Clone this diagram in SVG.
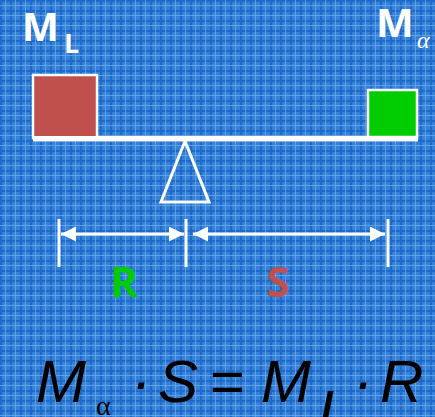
<svg xmlns="http://www.w3.org/2000/svg" width="435" height="417" viewBox="0 0 435 417">
<style>
.lbl{font-family:"Open Sans","Liberation Sans",sans-serif;font-weight:bold;fill:#fff}
.eq{font-family:"Liberation Sans",Arial,sans-serif;font-style:italic;font-size:60px;fill:#000}
.gr{font-family:"Liberation Serif","Times New Roman",serif}
.wl{stroke:#fff;fill:none}
.dim{stroke:#fff;stroke-width:3;fill:none}
</style>
<defs>
<pattern id="bg" width="10" height="10" patternUnits="userSpaceOnUse">
<rect width="10" height="10" fill="#3582d8"/>
<rect x="0" y="0" width="2" height="10" fill="#1d6acb"/>
<rect x="0" y="0" width="10" height="2" fill="#1d6acb"/>
<rect x="5" y="0" width="1" height="10" fill="#6aa7e8" opacity="0.8"/>
<rect x="0" y="5" width="10" height="1" fill="#6aa7e8" opacity="0.8"/>
</pattern>
<marker id="ah" viewBox="0 0 10 10" refX="10" refY="5" markerWidth="5.5" markerHeight="5" orient="auto-start-reverse" markerUnits="strokeWidth">
<path d="M0,0 L10,5 L0,10 Z" fill="#fff"/>
</marker>
</defs>
<rect width="435" height="417" fill="url(#bg)"/>

<g id="label-ML">
<text class="lbl" x="22" y="41" font-size="39">M</text>
<text class="lbl" x="64" y="53" font-size="27">L</text>
</g>
<g id="label-Ma">
<text class="lbl" x="376" y="37" font-size="40">M</text>
<text class="gr" x="417" y="48" font-size="24" font-style="italic" fill="#fff">α</text>
</g>

<g id="mass-L">
<rect x="33" y="75" width="64" height="63" fill="#c0504d" stroke="#fff" stroke-width="2.5"/>
</g>
<g id="mass-a">
<rect x="368" y="90" width="49" height="47" fill="#00cc00" stroke="#fff" stroke-width="2.5"/>
</g>
<g id="beam">
<rect x="33" y="136" width="385" height="5.5" fill="#fff"/>
</g>
<g id="fulcrum">
<polygon class="wl" points="185,141 161,202 209,202" stroke-width="3"/>
</g>

<g id="connectors">
<line class="dim" x1="59" y1="219" x2="59" y2="267"/>
<line class="dim" x1="186" y1="219" x2="186" y2="267"/>
<line class="dim" x1="388" y1="219" x2="388" y2="267"/>
<line class="dim" x1="61" y1="234" x2="184" y2="234" marker-start="url(#ah)" marker-end="url(#ah)"/>
<line class="dim" x1="193" y1="234" x2="385" y2="234" marker-start="url(#ah)" marker-end="url(#ah)"/>
</g>

<g id="label-R">
<text x="124" y="297" text-anchor="middle" font-family="'Open Sans','Liberation Sans',sans-serif" font-weight="bold" font-size="42" fill="#00cc00">R</text>
</g>
<g id="label-S">
<text x="278" y="297" text-anchor="middle" font-family="'Open Sans','Liberation Sans',sans-serif" font-weight="bold" font-size="42" fill="#c0504d">S</text>
</g>

<g id="equation">
<text class="eq" x="36" y="402">M</text>
<text class="gr" x="96" y="415" font-size="28" fill="#000">α</text>
<text class="eq" x="131" y="402" font-style="normal">·</text>
<text class="eq" x="158" y="402">S</text>
<text class="eq" x="209" y="402" font-style="normal">=</text>
<text class="eq" x="261" y="402">M</text>
<text class="eq" x="318" y="432" font-size="44">L</text>
<text class="eq" x="353" y="402" font-style="normal">·</text>
<text class="eq" x="380" y="402">R</text>
</g>
</svg>
